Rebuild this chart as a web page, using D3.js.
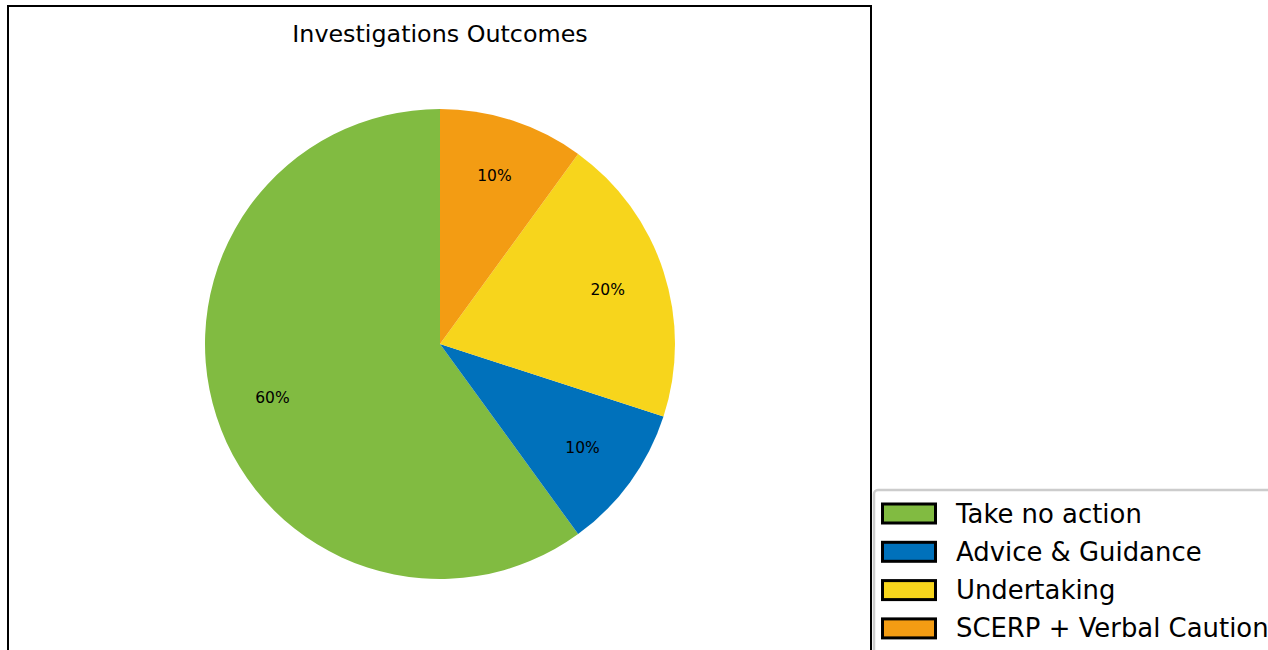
<!DOCTYPE html>
<html>
<head>
<meta charset="utf-8">
<script src="https://cdn.jsdelivr.net/npm/d3@7"></script>
<style>
  html, body { margin: 0; padding: 0; background: #fff; overflow: hidden; }
  svg { display: block; font-family: "DejaVu Sans", sans-serif; }
</style>
</head>
<body>
<svg id="chart" width="1268" height="650"></svg>
<script>
// Outcome categories, counts (as shares) and slice colours
const categories = ["Take no action", "Advice & Guidance", "Undertaking", "SCERP + Verbal Caution"];
const shares = [60, 10, 20, 10];
const colors = ["#81bb41", "#0071bb", "#f7d51c", "#f39c13"];
const chartTitle = "Investigations Outcomes";

const svg = d3.select("#chart");

// Axes frame
svg.append("rect")
  .attr("x", 8).attr("y", 6)
  .attr("width", 863).attr("height", 700)
  .attr("fill", "none").attr("stroke", "#000").attr("stroke-width", 2);

svg.append("text")
  .attr("x", 440).attr("y", 42)
  .attr("text-anchor", "middle")
  .attr("font-size", 23.8)
  .attr("fill", "#000")
  .text(chartTitle);

const cx = 440, cy = 344, radius = 235;
const data = categories.map((c, i) => ({ name: c, value: shares[i], color: colors[i] }));

// Slices start at 12 o'clock and run counter-clockwise
const pie = d3.pie()
  .value(d => d.value)
  .sort(null)
  .startAngle(0)
  .endAngle(-2 * Math.PI);

const arcs = pie(data);
const arc = d3.arc().innerRadius(0).outerRadius(radius);
const labelArc = d3.arc().innerRadius(radius * 0.75).outerRadius(radius * 0.75);

const g = svg.append("g").attr("transform", `translate(${cx},${cy})`);

g.selectAll("path.slice")
  .data(arcs)
  .join("path")
  .attr("class", "slice")
  .attr("d", arc)
  .attr("fill", d => d.data.color);

const total = d3.sum(shares);
g.selectAll("text.pct")
  .data(arcs)
  .join("text")
  .attr("class", "pct")
  .attr("transform", d => `translate(${labelArc.centroid(d)})`)
  .attr("text-anchor", "middle")
  .attr("dominant-baseline", "central")
  .attr("font-size", 15.5)
  .attr("fill", "#000")
  .text(d => `${Math.round(d.data.value / total * 100)}%`);

// Legend
const legend = svg.append("g").attr("transform", "translate(874,490)");
legend.append("rect")
  .attr("x", 0).attr("y", 0)
  .attr("width", 420).attr("height", 200)
  .attr("rx", 4)
  .attr("fill", "#fff")
  .attr("stroke", "#cccccc").attr("stroke-width", 2.5);

const rowY = d3.scaleLinear().domain([0, 1]).range([23.5, 61.8]);
const rows = legend.selectAll("g.row")
  .data(data)
  .join("g")
  .attr("class", "row")
  .attr("transform", (d, i) => `translate(0,${rowY(i)})`);

rows.append("rect")
  .attr("x", 8.5).attr("y", -9.5)
  .attr("width", 53).attr("height", 19)
  .attr("fill", d => d.color)
  .attr("stroke", "#000").attr("stroke-width", 3);

rows.append("text")
  .attr("x", 82).attr("y", 0)
  .attr("dominant-baseline", "central")
  .attr("font-size", 25.9)
  .attr("fill", "#000")
  .text(d => d.name);
</script>
</body>
</html>
